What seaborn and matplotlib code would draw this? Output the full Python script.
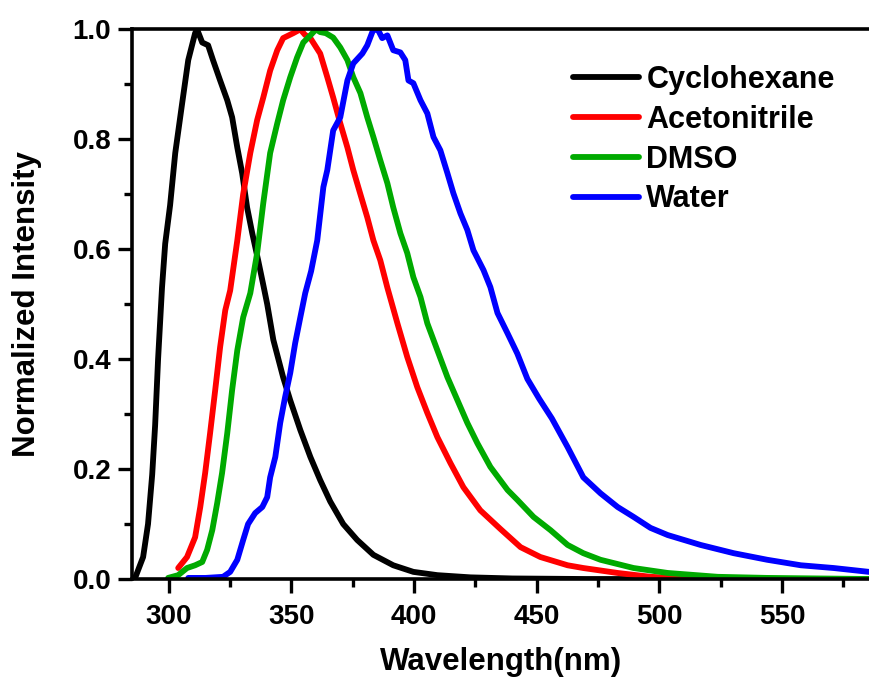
import numpy as np
import pandas as pd
import matplotlib
matplotlib.use("Agg")
import matplotlib.pyplot as plt
from matplotlib.ticker import MultipleLocator
import seaborn as sns

# ---------------- data ----------------
solvents = ["Cyclohexane", "Acetonitrile", "DMSO", "Water"]
colors = ["#000000", "#FF0000", "#00AA00", "#0000FF"]

cyclo_x = [285, 286.5, 289.5, 291.5, 293.2, 294.4, 295.6, 297.2, 298.5, 300.5, 302.6, 305.4,
           307.9, 310.7, 311.5, 313.6, 316, 318, 320.9, 323.8, 325.8, 327.9, 329.9, 331.9,
           334, 336.4, 338.5, 340.1, 342.6, 346.6, 349.5, 353.6, 357.7, 361.7, 365.8, 371.1,
           376.8, 383.4, 391.5, 399.7, 409.5, 423, 440, 470, 520, 586]
cyclo_y = [0, 0.005, 0.04, 0.10, 0.19, 0.28, 0.40, 0.53, 0.61, 0.68, 0.775, 0.865,
           0.944, 0.993, 1.0, 0.976, 0.971, 0.944, 0.907, 0.871, 0.84, 0.785, 0.738, 0.676,
           0.629, 0.58, 0.535, 0.50, 0.435, 0.367, 0.325, 0.271, 0.222, 0.18, 0.141, 0.10,
           0.071, 0.044, 0.025, 0.013, 0.007, 0.003, 0.001, 0, 0, 0]

acn_x = [303.8, 307.4, 310.7, 312.8, 314.8, 316.8, 318.9, 320.9, 323, 325, 327.9, 330.3,
         333.2, 336, 338.5, 341.3, 344.2, 346.6, 350.7, 353.6, 355.5, 357.7, 361.7, 364.6,
         367, 369.9, 372.8, 375.2, 378.1, 380.9, 383.4, 386.2, 389.1, 393.2, 397.2, 401.3,
         405.4, 409.5, 414.8, 420.1, 427, 435.2, 443.4, 451.5, 462.6, 469, 483, 496.4, 510,
         540, 586]
acn_y = [0.02, 0.04, 0.076, 0.131, 0.193, 0.265, 0.344, 0.422, 0.489, 0.525, 0.616, 0.70,
         0.775, 0.835, 0.876, 0.925, 0.962, 0.984, 0.993, 1.0, 0.99, 0.984, 0.956, 0.913,
         0.876, 0.829, 0.785, 0.744, 0.70, 0.658, 0.616, 0.58, 0.53, 0.465, 0.404, 0.349,
         0.302, 0.258, 0.211, 0.167, 0.125, 0.091, 0.058, 0.04, 0.025, 0.02, 0.011, 0.004,
         0.001, 0, 0]

dmso_x = [299.7, 303.8, 307.4, 310.7, 313.6, 315.6, 317.7, 319.7, 321.7, 323.8, 325.8, 327.9,
          330.3, 333.2, 336, 338.5, 341.3, 344.2, 346.6, 349.5, 352.3, 354.8, 357.7, 360,
          361.7, 364, 367, 369.9, 372.8, 375.2, 378.1, 380.9, 383.4, 386.2, 389.1, 391.5,
          394.4, 397.2, 399.7, 402.6, 405.4, 409.5, 413.6, 417.7, 421.7, 425.8, 431.1, 438.1,
          442.1, 448.7, 455.6, 462.6, 469, 476, 489.5, 503.4, 523.8, 544, 586]
dmso_y = [0.002, 0.007, 0.02, 0.025, 0.031, 0.053, 0.089, 0.138, 0.193, 0.265, 0.344, 0.416,
          0.476, 0.52, 0.593, 0.684, 0.775, 0.829, 0.871, 0.913, 0.949, 0.976, 0.989, 1.0,
          0.995, 0.993, 0.985, 0.967, 0.944, 0.913, 0.884, 0.84, 0.804, 0.762, 0.72, 0.676,
          0.629, 0.593, 0.549, 0.513, 0.465, 0.416, 0.367, 0.325, 0.284, 0.247, 0.204, 0.162,
          0.144, 0.113, 0.089, 0.062, 0.047, 0.035, 0.02, 0.011, 0.004, 0.002, 0]

water_x = [307.9, 315, 322.1, 325, 327.9, 330.3, 332.3, 335.2, 338.1, 340.1, 341.3, 343.4,
           345.4, 347.4, 349.5, 351.5, 353.6, 355.6, 358, 360.5, 363, 364.6, 367, 369.9,
           372.8, 375.2, 378.9, 380.9, 383.4, 385.4, 387, 389.1, 391.5, 394.4, 396.4, 397.7,
           399.7, 402.6, 405.4, 407.9, 410.7, 413.6, 416, 418.9, 421.7, 424.2, 428.3, 431.1,
           434, 438.1, 442.1, 446.2, 451, 456.2, 462.6, 469, 476, 483, 489.5, 496.4, 503.4,
           516.8, 530.3, 544, 557.7, 571.1, 585.5]
water_y = [0.002, 0.002, 0.004, 0.013, 0.035, 0.071, 0.10, 0.12, 0.131, 0.149, 0.185, 0.222,
           0.284, 0.331, 0.375, 0.429, 0.476, 0.52, 0.56, 0.616, 0.713, 0.744, 0.816, 0.84,
           0.907, 0.938, 0.956, 0.971, 1.0, 0.998, 0.984, 0.989, 0.962, 0.958, 0.944, 0.907,
           0.902, 0.871, 0.847, 0.804, 0.78, 0.738, 0.702, 0.665, 0.635, 0.598, 0.562, 0.531,
           0.484, 0.447, 0.41, 0.364, 0.328, 0.292, 0.24, 0.185, 0.156, 0.131, 0.113, 0.093,
           0.08, 0.062, 0.047, 0.035, 0.025, 0.02, 0.013]

x_ticks = [300, 350, 400, 450, 500, 550]
y_ticks = [0.0, 0.2, 0.4, 0.6, 0.8, 1.0]

# ---------------- build table ----------------
series = {
    "Cyclohexane": (cyclo_x, cyclo_y),
    "Acetonitrile": (acn_x, acn_y),
    "DMSO": (dmso_x, dmso_y),
    "Water": (water_x, water_y),
}
frames = []
for name in solvents:
    xs, ys = series[name]
    frames.append(pd.DataFrame({"Wavelength": xs, "Intensity": ys, "Solvent": name}))
df = pd.concat(frames, ignore_index=True)

# ---------------- style ----------------
sns.set_style("ticks")
plt.rcParams["font.family"] = ["Liberation Sans", "DejaVu Sans"]
plt.rcParams["font.weight"] = "bold"
plt.rcParams["axes.labelweight"] = "bold"
plt.rcParams["text.color"] = "black"
plt.rcParams["axes.labelcolor"] = "black"
plt.rcParams["xtick.color"] = "black"
plt.rcParams["ytick.color"] = "black"

fig = plt.figure(figsize=(8.69, 6.82), dpi=100)
ax = fig.add_axes([0.152, 0.151, 0.848, 0.806])

sns.lineplot(data=df, x="Wavelength", y="Intensity", hue="Solvent",
             hue_order=solvents, palette=colors,
             estimator=None, sort=False, ax=ax, legend=False)
for line in ax.get_lines():
    line.set_linewidth(4.2)
    line.set_solid_joinstyle("round")
    line.set_solid_capstyle("round")

ax.set_xlim(285, 585.5)
ax.set_ylim(0, 1.0)
ax.set_xticks(x_ticks)
ax.set_yticks(y_ticks)
ax.set_xticklabels([str(v) for v in x_ticks])
ax.set_yticklabels([f"{v:.1f}" for v in y_ticks])
ax.xaxis.set_minor_locator(MultipleLocator(25))
ax.yaxis.set_minor_locator(MultipleLocator(0.1))

ax.set_xlabel("Wavelength(nm)", fontsize=22.5, fontweight="bold", color="black", labelpad=12)
ax.set_ylabel("Normalized Intensity", fontsize=22.5, fontweight="bold", color="black",
              labelpad=22)

for side in ["left", "bottom", "top"]:
    ax.spines[side].set_linewidth(2.6)
    ax.spines[side].set_color("black")
ax.spines["right"].set_visible(False)

ax.tick_params(axis="both", which="major", direction="out", length=10, width=2.4,
               labelsize=20, colors="black", top=False, right=False)
ax.tick_params(axis="both", which="minor", direction="out", length=6, width=2.4,
               colors="black", top=False, right=False)
ax.tick_params(axis="x", which="major", pad=8)
ax.tick_params(axis="y", which="major", pad=5)
for lab in ax.get_xticklabels() + ax.get_yticklabels():
    lab.set_fontweight("bold")
    lab.set_color("black")

# legend built from the drawn lines
handles = ax.get_lines()[:len(solvents)]
leg = ax.legend(handles, solvents, loc="upper left",
                bbox_to_anchor=(573 / 869, 1 - 65 / 682), bbox_transform=fig.transFigure,
                frameon=False, borderpad=0, borderaxespad=0, handlelength=2.15,
                handletextpad=0.25, labelspacing=0.32,
                prop={"size": 22, "weight": "bold"})
for line in leg.get_lines():
    line.set_linewidth(4.2)
for t in leg.get_texts():
    t.set_color("black")

fig.savefig("out.png", dpi=100)
